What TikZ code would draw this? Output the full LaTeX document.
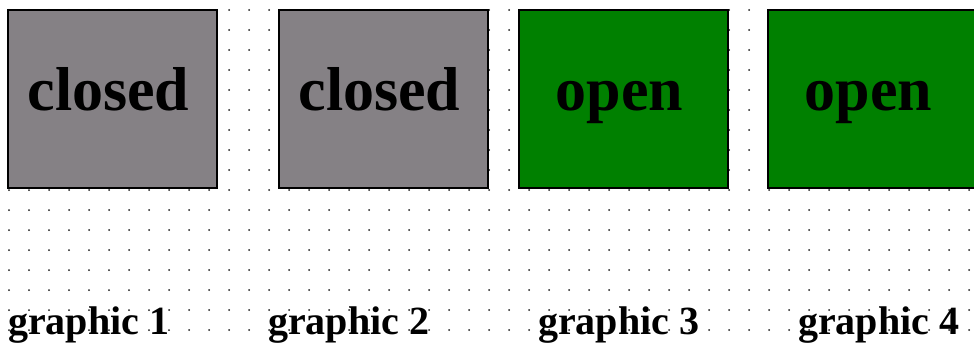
\documentclass[tikz,border=0pt]{standalone}
\usepackage{fontspec}
\setmainfont{Liberation Serif}
\usepackage{tikz}
\usetikzlibrary{calc,positioning}
\definecolor{offgray}{HTML}{858185}
\definecolor{ongreen}{HTML}{008000}
\definecolor{dotgray}{HTML}{1A1A1A}
\tikzset{
  statebox/.style={draw=black,line width=1.6pt,minimum width=209pt,minimum height=178pt,inner sep=0pt},
  statetext/.style={anchor=base,font=\bfseries\fontsize{62}{70}\selectfont},
  caption/.style={anchor=base west,font=\bfseries\fontsize{40}{46}\selectfont,inner sep=0pt}
}

\begin{document}
\begin{tikzpicture}[x=1pt,y=-1pt]
  \useasboundingbox (0,0) rectangle (974,350);
  % dotted grid
  \foreach \i in {0,...,48}
    \foreach \j in {0,...,16}
      \fill[dotgray] (9+20*\i,10+20*\j) circle (1pt);
  % state boxes and captions
  \foreach \n/\x/\state/\col/\lx in {
    1/112.5/closed/offgray/8,
    2/383.5/closed/offgray/268,
    3/623.5/open/ongreen/538,
    4/872.5/open/ongreen/798} {
    \node[statebox,fill=\col] (box\n) at (\x,99) {};
    \node[statetext] (state\n) at ($(box\n.center)+(-4,12)$) {\state};
    \node[caption] (cap\n) at (\lx,334) {graphic \n};
  }
\end{tikzpicture}
\end{document}
